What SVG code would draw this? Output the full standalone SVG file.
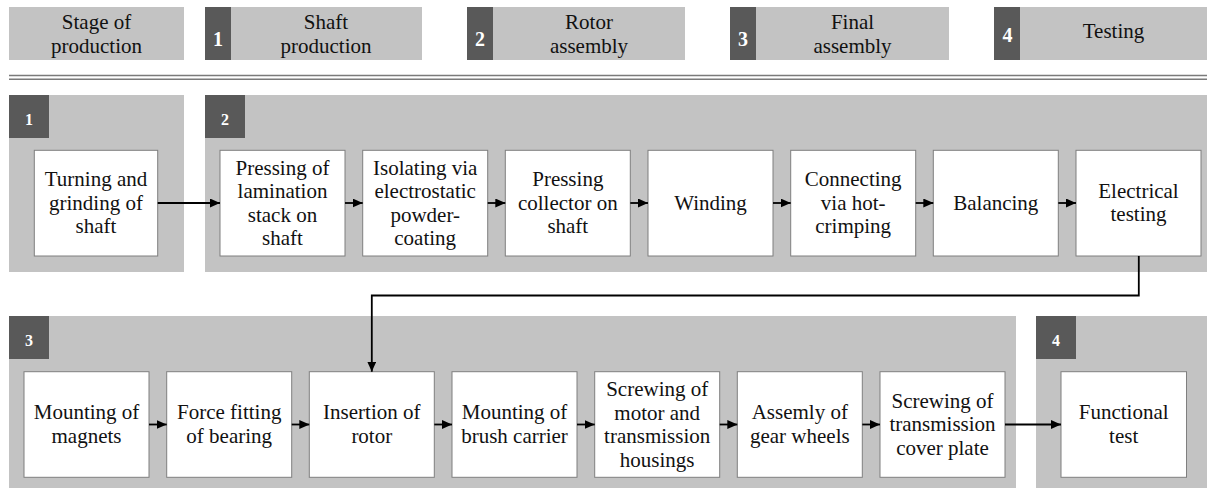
<svg xmlns="http://www.w3.org/2000/svg" width="1207" height="488" viewBox="0 0 1207 488">
<style>
.hdr{fill:#c3c3c3}
.panel{fill:#c3c3c3}
.dark{fill:#595959}
.box{fill:#ffffff;stroke:#7f7f7f;stroke-width:1}
.t{font-family:"Liberation Serif","Times New Roman",serif;font-size:21px;fill:#111;text-anchor:middle}
.num{font-family:"Liberation Serif","Times New Roman",serif;font-weight:bold;font-size:16px;fill:#fff;text-anchor:middle}
.hnum{font-family:"Liberation Serif","Times New Roman",serif;font-weight:bold;font-size:20px;fill:#fff;text-anchor:middle}
.con{fill:none;stroke:#000;stroke-width:1.8;marker-end:url(#ah)}
.sep{stroke:#7a7a7a;stroke-width:1.4}
</style>
<defs>
<marker id="ah" markerUnits="userSpaceOnUse" markerWidth="10" markerHeight="9" refX="10" refY="4.5" orient="auto">
<path d="M0,0 L10,4.5 L0,9 z" fill="#000"/>
</marker>
</defs>

<g id="header">
<g id="h0"><rect class="hdr" x="9" y="7" width="175" height="53"/>
<text class="t" x="96.5" y="29">Stage of</text><text class="t" x="96.5" y="53">production</text></g>
<g id="h1"><rect class="hdr" x="205" y="7" width="217" height="53"/><rect class="dark" x="205" y="7" width="26" height="53"/>
<text class="hnum" x="218" y="46">1</text>
<text class="t" x="326" y="29">Shaft</text><text class="t" x="326" y="53">production</text></g>
<g id="h2"><rect class="hdr" x="467" y="7" width="218" height="53"/><rect class="dark" x="467" y="7" width="26" height="53"/>
<text class="hnum" x="480" y="46">2</text>
<text class="t" x="589" y="29">Rotor</text><text class="t" x="589" y="53">assembly</text></g>
<g id="h3"><rect class="hdr" x="730" y="7" width="219" height="53"/><rect class="dark" x="730" y="7" width="26" height="53"/>
<text class="hnum" x="743" y="46">3</text>
<text class="t" x="852.5" y="29">Final</text><text class="t" x="852.5" y="53">assembly</text></g>
<g id="h4"><rect class="hdr" x="994" y="7" width="213" height="53"/><rect class="dark" x="994" y="7" width="26" height="53"/>
<text class="hnum" x="1007.5" y="42">4</text>
<text class="t" x="1113.5" y="38">Testing</text></g>
</g>

<g id="separator">
<line class="sep" x1="9" y1="75.5" x2="1207" y2="75.5"/>
<line class="sep" x1="9" y1="79.3" x2="1207" y2="79.3"/>
</g>

<g id="stage1"><rect class="panel" x="9" y="95" width="175" height="177"/><rect class="dark" x="9" y="95" width="40" height="43"/>
<text class="num" x="29" y="124.5">1</text></g>
<g id="stage2"><rect class="panel" x="205" y="95" width="1002" height="177"/><rect class="dark" x="205" y="95" width="40" height="43"/>
<text class="num" x="225" y="124.5">2</text></g>
<g id="stage3"><rect class="panel" x="9" y="316" width="1007" height="172"/><rect class="dark" x="9" y="316" width="40" height="43"/>
<text class="num" x="29" y="346">3</text></g>
<g id="stage4"><rect class="panel" x="1036" y="316" width="171" height="172"/><rect class="dark" x="1036" y="316" width="40" height="43"/>
<text class="num" x="1056" y="346">4</text></g>

<g id="n1"><rect class="box" x="34.3" y="150.3" width="123.4" height="105.7"/>
<text class="t" x="96" y="186">Turning and</text><text class="t" x="96" y="209.5">grinding of</text><text class="t" x="96" y="233">shaft</text></g>
<g id="n2"><rect class="box" x="220" y="150.3" width="125" height="105.7"/>
<text class="t" x="282.5" y="174.5">Pressing of</text><text class="t" x="282.5" y="198">lamination</text><text class="t" x="282.5" y="221.5">stack on</text><text class="t" x="282.5" y="245">shaft</text></g>
<g id="n3"><rect class="box" x="362.7" y="150.3" width="125" height="105.7"/>
<text class="t" x="425.2" y="174.5">Isolating via</text><text class="t" x="425.2" y="198">electrostatic</text><text class="t" x="425.2" y="221.5">powder-</text><text class="t" x="425.2" y="245">coating</text></g>
<g id="n4"><rect class="box" x="505.3" y="150.3" width="125" height="105.7"/>
<text class="t" x="567.8" y="186">Pressing</text><text class="t" x="567.8" y="209.5">collector on</text><text class="t" x="567.8" y="233">shaft</text></g>
<g id="n5"><rect class="box" x="648" y="150.3" width="125" height="105.7"/>
<text class="t" x="710.5" y="209.5">Winding</text></g>
<g id="n6"><rect class="box" x="790.7" y="150.3" width="125" height="105.7"/>
<text class="t" x="853.2" y="186">Connecting</text><text class="t" x="853.2" y="209.5">via hot-</text><text class="t" x="853.2" y="233">crimping</text></g>
<g id="n7"><rect class="box" x="933.3" y="150.3" width="125" height="105.7"/>
<text class="t" x="995.8" y="209.5">Balancing</text></g>
<g id="n8"><rect class="box" x="1076" y="150.3" width="125" height="105.7"/>
<text class="t" x="1138.5" y="197.5">Electrical</text><text class="t" x="1138.5" y="221">testing</text></g>

<g id="n9"><rect class="box" x="24" y="371.7" width="125" height="105.6"/>
<text class="t" x="86.5" y="419">Mounting of</text><text class="t" x="86.5" y="442.5">magnets</text></g>
<g id="n10"><rect class="box" x="166.7" y="371.7" width="125" height="105.6"/>
<text class="t" x="229.2" y="419">Force fitting</text><text class="t" x="229.2" y="442.5">of bearing</text></g>
<g id="n11"><rect class="box" x="309.3" y="371.7" width="125" height="105.6"/>
<text class="t" x="371.8" y="419">Insertion of</text><text class="t" x="371.8" y="442.5">rotor</text></g>
<g id="n12"><rect class="box" x="452" y="371.7" width="125" height="105.6"/>
<text class="t" x="514.5" y="419">Mounting of</text><text class="t" x="514.5" y="442.5">brush carrier</text></g>
<g id="n13"><rect class="box" x="594.7" y="371.7" width="125" height="105.6"/>
<text class="t" x="657.2" y="396">Screwing of</text><text class="t" x="657.2" y="419.5">motor and</text><text class="t" x="657.2" y="443">transmission</text><text class="t" x="657.2" y="466.5">housings</text></g>
<g id="n14"><rect class="box" x="737.3" y="371.7" width="125" height="105.6"/>
<text class="t" x="799.8" y="419">Assemly of</text><text class="t" x="799.8" y="442.5">gear wheels</text></g>
<g id="n15"><rect class="box" x="880" y="371.7" width="125" height="105.6"/>
<text class="t" x="942.5" y="407.5">Screwing of</text><text class="t" x="942.5" y="431">transmission</text><text class="t" x="942.5" y="454.5">cover plate</text></g>
<g id="n16"><rect class="box" x="1061" y="371.7" width="125.5" height="105.6"/>
<text class="t" x="1123.7" y="419">Functional</text><text class="t" x="1123.7" y="442.5">test</text></g>

<g id="connectors">
<line class="con" x1="157.7" y1="203" x2="220" y2="203"/>
<line class="con" x1="345" y1="203" x2="362.7" y2="203"/>
<line class="con" x1="487.7" y1="203" x2="505.3" y2="203"/>
<line class="con" x1="630.3" y1="203" x2="648" y2="203"/>
<line class="con" x1="773" y1="203" x2="790.7" y2="203"/>
<line class="con" x1="915.7" y1="203" x2="933.3" y2="203"/>
<line class="con" x1="1058.3" y1="203" x2="1076" y2="203"/>
<path class="con" d="M1138.8,256 V295.5 H371.8 V371.7"/>
<line class="con" x1="149" y1="424.5" x2="166.7" y2="424.5"/>
<line class="con" x1="291.7" y1="424.5" x2="309.3" y2="424.5"/>
<line class="con" x1="434.3" y1="424.5" x2="452" y2="424.5"/>
<line class="con" x1="577" y1="424.5" x2="594.7" y2="424.5"/>
<line class="con" x1="719.7" y1="424.5" x2="737.3" y2="424.5"/>
<line class="con" x1="862.3" y1="424.5" x2="880" y2="424.5"/>
<line class="con" x1="1005" y1="424.5" x2="1061" y2="424.5"/>
</g>
</svg>
